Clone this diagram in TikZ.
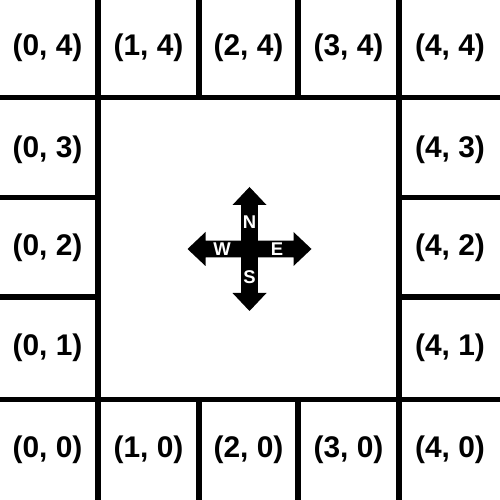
\documentclass[tikz,border=0pt]{standalone}
\usepackage{fontspec}
\setmainfont{Liberation Sans}
\usetikzlibrary{calc}
\begin{document}
\begin{tikzpicture}[
	x=2cm, y=2cm,
	wall/.style={ line width=2.9pt, black },
	cell/.style={ inner sep=0pt, font=\fontsize{17}{20}\selectfont\bfseries },
	dir/.style={ inner sep=0pt, white, font=\fontsize{10.5}{12}\selectfont\bfseries }
]
\useasboundingbox (0,0) rectangle (5,5);

\draw[wall] (0,4.025) -- (5,4.025);
\draw[wall] (0,1.005) -- (5,1.005);
\draw[wall] (0,3.025) -- (0.98,3.025);
\draw[wall] (0,2.03) -- (0.98,2.03);
\draw[wall] (3.99,3.025) -- (5,3.025);
\draw[wall] (3.99,2.03) -- (5,2.03);
\draw[wall] (0.98,0) -- (0.98,5);
\draw[wall] (3.99,0) -- (3.99,5);
\draw[wall] (1.99,4.025) -- (1.99,5);
\draw[wall] (2.98,4.025) -- (2.98,5);
\draw[wall] (1.99,0) -- (1.99,1.005);
\draw[wall] (2.98,0) -- (2.98,1.005);

\node at (0.475,4.52) (c04) [cell] {(0, 4)};
\node at (1.485,4.52) (c14) [cell] {(1, 4)};
\node at (2.485,4.52) (c24) [cell] {(2, 4)};
\node at (3.485,4.52) (c34) [cell] {(3, 4)};
\node at (4.50,4.52) (c44) [cell] {(4, 4)};
\node at (0.475,3.50) (c03) [cell] {(0, 3)};
\node at (4.50,3.50) (c43) [cell] {(4, 3)};
\node at (0.475,2.52) (c02) [cell] {(0, 2)};
\node at (4.50,2.52) (c42) [cell] {(4, 2)};
\node at (0.475,1.52) (c01) [cell] {(0, 1)};
\node at (4.50,1.52) (c41) [cell] {(4, 1)};
\node at (0.475,0.50) (c00) [cell] {(0, 0)};
\node at (1.485,0.50) (c10) [cell] {(1, 0)};
\node at (2.485,0.50) (c20) [cell] {(2, 0)};
\node at (3.485,0.50) (c30) [cell] {(3, 0)};
\node at (4.50,0.50) (c40) [cell] {(4, 0)};

% compass
\coordinate (ctr) at (2.495,2.51);
\fill[black,shift={(ctr)}] (0,0.62) -- (0.17,0.44) -- (0.083,0.44) -- (0.083,0.083)
	-- (0.44,0.083) -- (0.44,0.17) -- (0.62,0) -- (0.44,-0.17) -- (0.44,-0.083)
	-- (0.083,-0.083) -- (0.083,-0.44) -- (0.17,-0.44) -- (0,-0.62) -- (-0.17,-0.44)
	-- (-0.083,-0.44) -- (-0.083,-0.083) -- (-0.44,-0.083) -- (-0.44,-0.17)
	-- (-0.62,0) -- (-0.44,0.17) -- (-0.44,0.083) -- (-0.083,0.083)
	-- (-0.083,0.44) -- (-0.17,0.44) -- cycle;
\node at ($(ctr)+(0,0.27)$) (dn) [dir] {N};
\node at ($(ctr)+(0,-0.28)$) (ds) [dir] {S};
\node at ($(ctr)+(-0.275,0)$) (dw) [dir] {W};
\node at ($(ctr)+(0.275,0)$) (de) [dir] {E};

\end{tikzpicture}
\end{document}
